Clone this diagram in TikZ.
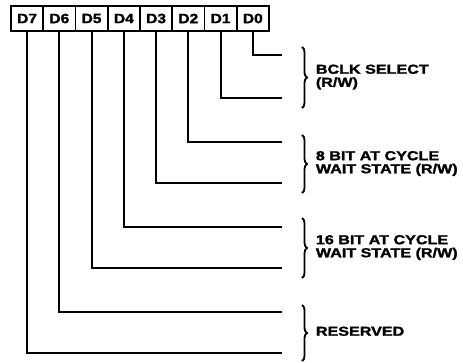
\documentclass[tikz,border=0pt]{standalone}
\usepackage{fontspec}
\usepackage{graphicx}
\newfontfamily\regfont[BoldFeatures={FakeBold=1.5}]{Liberation Sans}
\newcommand{\bitname}[1]{\scalebox{1.15}[1]{#1}}
\newcommand{\fieldname}[1]{\scalebox{1.24}[1]{\begin{tabular}{@{}l@{}}#1\end{tabular}}}
\usetikzlibrary{positioning,decorations.pathreplacing}
\tikzset{
  cell/.style={rectangle, draw, line width=1.8pt, minimum width=32.25pt,
               minimum height=25pt, inner sep=0pt, outer sep=0pt,
               font=\regfont\bfseries\fontsize{13.5}{15}\selectfont},
  wire/.style={line width=2pt},
  brc/.style={decorate, decoration={brace, amplitude=5pt}, line width=1.8pt},
  lbl/.style={font=\regfont\bfseries\fontsize{13}{12}\selectfont,
              align=left, inner sep=0pt},
}

\begin{document}
\begin{tikzpicture}[x=1pt, y=-1pt]
  \useasboundingbox (0,0) rectangle (463,362);

  % register bits
  \node[cell] at (27.1,18.5) (d7) {\bitname{D7}};
  \node[cell, right=0pt of d7] (d6) {\bitname{D6}};
  \node[cell, right=0pt of d6] (d5) {\bitname{D5}};
  \node[cell, right=0pt of d5] (d4) {\bitname{D4}};
  \node[cell, right=0pt of d4] (d3) {\bitname{D3}};
  \node[cell, right=0pt of d3] (d2) {\bitname{D2}};
  \node[cell, right=0pt of d2] (d1) {\bitname{D1}};
  \node[cell, right=0pt of d1] (d0) {\bitname{D0}};

  % line ends
  \coordinate (e0) at (282,55);
  \coordinate (e1) at (282,98);
  \coordinate (e2) at (282,142);
  \coordinate (e3) at (282,183);
  \coordinate (e4) at (282,227);
  \coordinate (e5) at (282,268);
  \coordinate (e6) at (282,312);
  \coordinate (e7) at (282,353);

  \draw[wire] (d0.south) |- (e0);
  \draw[wire] (d1.south) |- (e1);
  \draw[wire] (d2.south) |- (e2);
  \draw[wire] (d3.south) |- (e3);
  \draw[wire] (d4.south) |- (e4);
  \draw[wire] (d5.south) |- (e5);
  \draw[wire] (d6.south) |- (e6);
  \draw[wire] (d7.south) |- (e7);

  % field braces
  \coordinate (s0) at (302,47);
  \coordinate (s1) at (302,108);
  \coordinate (w0) at (302,135);
  \coordinate (w1) at (302,193);
  \coordinate (x0) at (302,218);
  \coordinate (x1) at (302,278);
  \coordinate (r0) at (302,305);
  \coordinate (r1) at (302,361);

  \draw[brc] (s0) -- (s1) node[lbl, midway, right=13pt] (bclk) {\fieldname{BCLK SELECT\\(R/W)}};
  \draw[brc] (w0) -- (w1) node[lbl, midway, right=13pt] (ws8) {\fieldname{8 BIT AT CYCLE\\WAIT STATE (R/W)}};
  \draw[brc] (x0) -- (x1) node[lbl, midway, right=13pt] (ws16) {\fieldname{16 BIT AT CYCLE\\WAIT STATE (R/W)}};
  \draw[brc] (r0) -- (r1) node[lbl, midway, right=13pt] (rsv) {\fieldname{RESERVED}};
\end{tikzpicture}
\end{document}
